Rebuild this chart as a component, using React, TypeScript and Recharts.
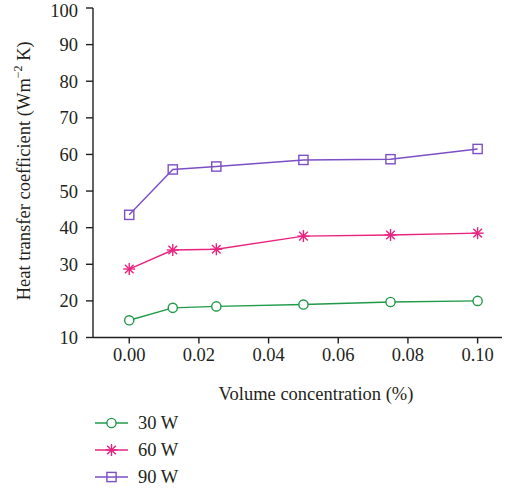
import { Label, Line, LineChart, XAxis, YAxis } from "recharts";

const concentration = [0, 0.0125, 0.025, 0.05, 0.075, 0.1];
const w30 = [14.7, 18.1, 18.5, 19.0, 19.7, 20.0];
const w60 = [28.7, 33.9, 34.1, 37.7, 38.0, 38.5];
const w90 = [43.5, 55.9, 56.7, 58.5, 58.7, 61.5];
const xTicks = [0, 0.02, 0.04, 0.06, 0.08, 0.1];
const yTicks = [10, 20, 30, 40, 50, 60, 70, 80, 90, 100];

const GREEN = "#1f9a48";
const PINK = "#e8237f";
const PURPLE = "#7c4fc6";
const FONT = "'Liberation Serif', 'DejaVu Serif', serif";

const data = concentration.map((c, i) => ({ c, w30: w30[i], w60: w60[i], w90: w90[i] }));

function Circle({ cx, cy, color }: { cx: number; cy: number; color: string }) {
  return <circle cx={cx} cy={cy} r={4.6} fill="#fff" stroke={color} strokeWidth={1.4} />;
}

function Star({ cx, cy, color }: { cx: number; cy: number; color: string }) {
  const r = 6;
  const d = r * 0.72;
  return (
    <g stroke={color} strokeWidth={1.4}>
      <line x1={cx} y1={cy - r} x2={cx} y2={cy + r} />
      <line x1={cx - r} y1={cy} x2={cx + r} y2={cy} />
      <line x1={cx - d} y1={cy - d} x2={cx + d} y2={cy + d} />
      <line x1={cx - d} y1={cy + d} x2={cx + d} y2={cy - d} />
    </g>
  );
}

function Square({ cx, cy, color }: { cx: number; cy: number; color: string }) {
  return <rect x={cx - 4.6} y={cy - 4.6} width={9.2} height={9.2} fill="none" stroke={color} strokeWidth={1.4} />;
}

const series = [
  { key: "w30", name: "30 W", color: GREEN, Mark: Circle },
  { key: "w60", name: "60 W", color: PINK, Mark: Star },
  { key: "w90", name: "90 W", color: PURPLE, Mark: Square },
];

function YTitle(props: any) {
  const vb = props.viewBox || {};
  const cy = (vb.y ?? 0) + (vb.height ?? 0) / 2 - 2;
  const x = 24;
  return (
    <text
      x={x}
      y={cy}
      transform={`rotate(-90 ${x} ${cy})`}
      textAnchor="middle"
      dominantBaseline="central"
      fontFamily={FONT}
      fontSize={18.5}
      fill="#231f20"
    >
      Heat transfer coefficient (Wm
      <tspan dy={-6} fontSize={12}>−2</tspan>
      <tspan dy={6}> K)</tspan>
    </text>
  );
}

function XTitle() {
  return (
    <text x={316} y={394} textAnchor="middle" dominantBaseline="central" fontFamily={FONT} fontSize={18.5} fill="#231f20">
      Volume concentration (%)
    </text>
  );
}

function LegendBox() {
  return (
    <svg width={200} height={80} style={{ position: "absolute", left: 0, top: 408 }}>
      {series.map((s, i) => {
        const y = 15 + i * 27;
        const M = s.Mark;
        return (
          <g key={s.key}>
            <line x1={95} y1={y} x2={128} y2={y} stroke={s.color} strokeWidth={1.4} />
            <M cx={111.5} cy={y} color={s.color} />
            <text x={138} y={y} dominantBaseline="central" fontFamily={FONT} fontSize={18.5} fill="#231f20">
              {s.name}
            </text>
          </g>
        );
      })}
    </svg>
  );
}

export default function App() {
  const tickStyle = { fontFamily: FONT, fontSize: 18.5, fill: "#231f20" };
  return (
    <div style={{ position: "absolute", left: 0, top: 0, width: 510, height: 491, background: "#fff" }}>
      <LineChart width={510} height={491} data={data} margin={{ top: 8, right: 8, left: 0, bottom: 0 }}>
        <XAxis
          dataKey="c"
          type="number"
          domain={[-0.0104, 0.107]}
          ticks={xTicks}
          tickFormatter={(v: number) => v.toFixed(2)}
          allowDataOverflow
          height={153.5}
          tick={tickStyle}
          tickSize={6}
          tickMargin={4}
          axisLine={{ stroke: "#231f20", strokeWidth: 1.4 }}
          tickLine={{ stroke: "#231f20", strokeWidth: 1.4 }}
        >
          <Label content={<XTitle />} />
        </XAxis>
        <XAxis
          xAxisId="top"
          orientation="top"
          dataKey="c"
          type="number"
          domain={[-0.0104, 0.107]}
          height={0}
          tick={false}
          tickLine={false}
          axisLine={{ stroke: "#231f20", strokeWidth: 1.4 }}
        />
        <YAxis
          type="number"
          domain={[10, 100]}
          ticks={yTicks}
          width={93}
          tick={tickStyle}
          tickSize={7}
          tickMargin={8}
          axisLine={{ stroke: "#231f20", strokeWidth: 1.4 }}
          tickLine={{ stroke: "#231f20", strokeWidth: 1.4 }}
        >
          <Label content={<YTitle />} />
        </YAxis>
        <YAxis
          yAxisId="right"
          orientation="right"
          type="number"
          domain={[10, 100]}
          width={0}
          tick={false}
          tickLine={false}
          axisLine={{ stroke: "#231f20", strokeWidth: 1.4 }}
        />
        {series.map((s) => (
          <Line
            key={s.key}
            dataKey={s.key}
            name={s.name}
            type="linear"
            stroke={s.color}
            strokeWidth={1.4}
            isAnimationActive={false}
            dot={(p: any) => <s.Mark key={`${s.key}-${p.index}`} cx={p.cx} cy={p.cy} color={s.color} />}
            activeDot={false}
          />
        ))}
      </LineChart>
      <LegendBox />
    </div>
  );
}
